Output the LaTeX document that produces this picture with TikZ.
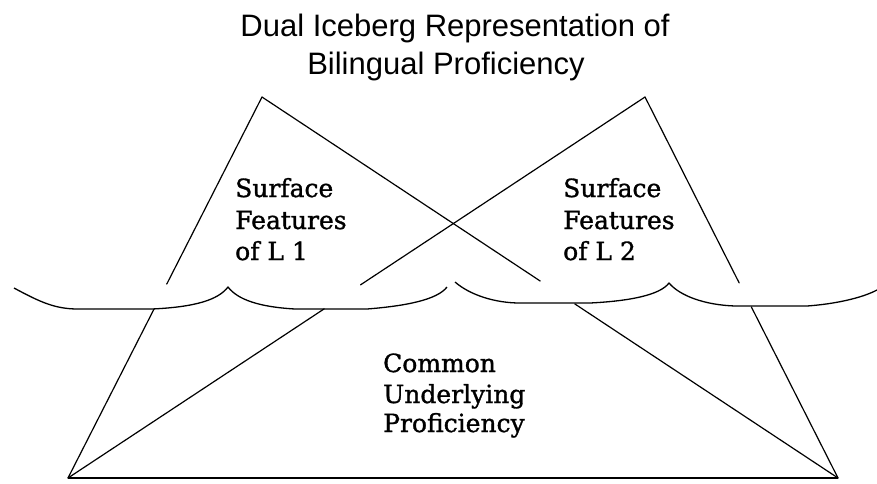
\documentclass[tikz,border=0pt]{standalone}
\usepackage{fontspec}
\setmainfont{DejaVu Serif}
\newfontfamily\titlefont{Liberation Sans}
\newfontfamily\bodyfont[FakeBold=1.2]{DejaVu Serif}
\usetikzlibrary{calc}

\begin{document}
\begin{tikzpicture}[x=1pt,y=-1pt,
  edge/.style={line width=1.2pt, line cap=round},
  water/.style={line width=1.3pt, line join=round},
  ground/.style={line width=1.8pt},
  heading/.style={font=\titlefont\fontsize{31}{31}\selectfont, inner sep=0pt, anchor=base},
  txt/.style={font=\bodyfont\fontsize{25}{25}\selectfont, inner sep=0pt, anchor=base west}]

\useasboundingbox (0,0) rectangle (877,483);
\fill[white] (0,0) rectangle (877,483);

% corners of the two icebergs
\coordinate (apexL) at (262,97);
\coordinate (apexR) at (645,97);
\coordinate (baseL) at (68,478);
\coordinate (baseR) at (838,478);

% shared base
\draw[ground] (baseL) -- (baseR);

% flanks: the part above the water stops short of the waterline
\draw[edge] (apexL) -- ($(apexL)!0.491!(baseL)$);
\draw[edge] ($(apexL)!0.556!(baseL)$) -- (baseL);
\draw[edge] (apexL) -- ($(apexL)!0.483!(baseR)$);
\draw[edge] ($(apexL)!0.543!(baseR)$) -- (baseR);
\draw[edge] (apexR) -- ($(apexR)!0.493!(baseL)$);
\draw[edge] ($(apexR)!0.556!(baseL)$) -- (baseL);
\draw[edge] (apexR) -- ($(apexR)!0.488!(baseR)$);
\draw[edge] ($(apexR)!0.551!(baseR)$) -- (baseR);

% waterline, drawn as two brace-like waves
\draw[water] (14,288) .. controls (40,302) and (55,309) .. (78,309) -- (152,309)
  .. controls (195,307) and (218,300) .. (228,287)
  .. controls (238,300) and (260,307) .. (295,309) -- (367,309)
  .. controls (405,306) and (437,300) .. (447,287);
\draw[water] (455,282) .. controls (470,295) and (495,303) .. (520,303) -- (590,303)
  .. controls (630,301) and (660,295) .. (669,283)
  .. controls (680,296) and (705,305) .. (735,306) -- (807,306)
  .. controls (835,304) and (862,298) .. (877,290);

% title
\node[heading] (title1) at (455,36) {Dual Iceberg Representation of};
\node[heading] (title2) at (446,74) {Bilingual Proficiency};

% labels
\node[txt] (sfA1) at (235,197) {Surface};
\node[txt] (sfA2) at (235,229) {Features};
\node[txt] (sfA3) at (235,260) {of L 1};
\node[txt] (sfB1) at (563,197) {Surface};
\node[txt] (sfB2) at (563,229) {Features};
\node[txt] (sfB3) at (563,260) {of L 2};
\node[txt] (cu1) at (383,372) {Common};
\node[txt] (cu2) at (383,403) {Underlying};
\node[txt] (cu3) at (383,432) {Proficiency};
\end{tikzpicture}
\end{document}
